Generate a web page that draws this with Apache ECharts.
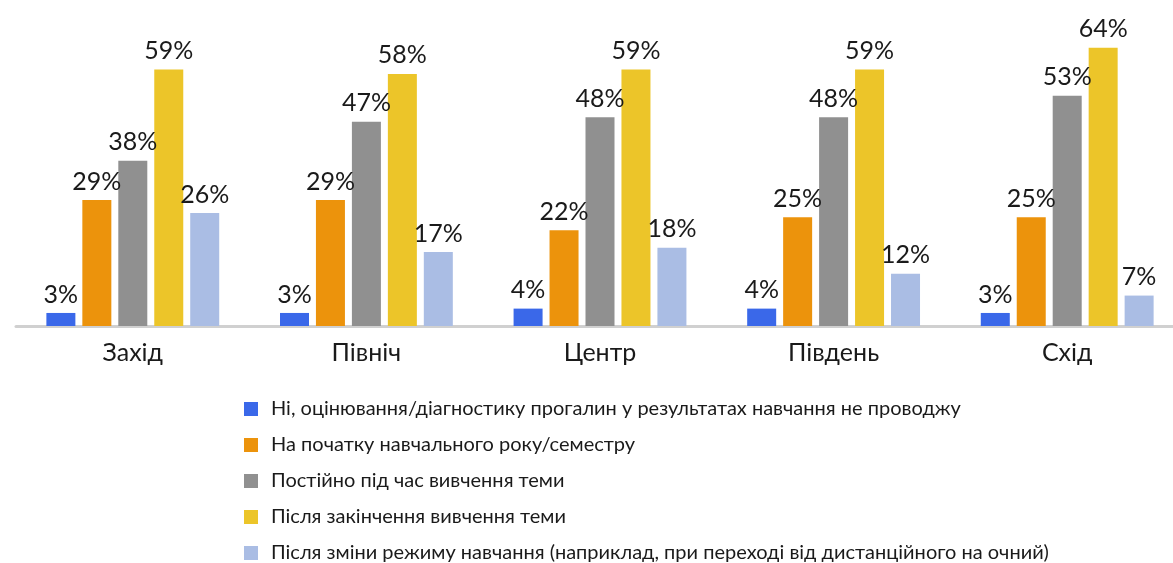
<!DOCTYPE html>
<html><head><meta charset="utf-8">
<script src="https://cdn.jsdelivr.net/npm/echarts@6/dist/echarts.min.js"></script>
<style>html,body{margin:0;padding:0;background:#fff}#c{width:1173px;height:563px}</style>
</head><body><div id="c"></div>
<script>
const categories = ['Захід', 'Північ', 'Центр', 'Південь', 'Схід'];
const seriesNames = [
  'Ні, оцінювання/діагностику прогалин у результатах навчання не проводжу',
  'На початку навчального року/семестру',
  'Постійно під час вивчення теми',
  'Після закінчення вивчення теми',
  'Після зміни режиму навчання (наприклад, при переході від дистанційного на очний)'
];
const sNo = [3, 3, 4, 4, 3];
const sStart = [29, 29, 22, 25, 25];
const sConst = [38, 47, 48, 48, 53];
const sAfter = [59, 58, 59, 59, 64];
const sMode = [26, 17, 18, 12, 7];
const colors = ['#3a68e9', '#ec930c', '#909090', '#ecc529', '#aabde4'];
const values = [sNo, sStart, sConst, sAfter, sMode];
const FONT = 'Lato, "Noto Sans", sans-serif';

const chart = echarts.init(document.getElementById('c'));
chart.setOption({
  animation: false,
  color: colors,
  grid: { left: 16, width: 1168, top: 0, bottom: 237, containLabel: false, outerBoundsMode: 'none' },
  xAxis: {
    type: 'category', data: categories,
    axisLine: { lineStyle: { color: '#d0d0d0', width: 3 } },
    axisTick: { show: false },
    axisLabel: { color: '#1a1a1a', fontSize: 25, fontFamily: FONT, margin: 14 }
  },
  yAxis: { type: 'value', min: 0, max: 75, show: false, splitLine: { show: false } },
  legend: {
    orient: 'vertical', left: 244, top: 399, height: 170, padding: 0,
    itemWidth: 14, itemHeight: 14, itemGap: 16, icon: 'rect',
    textStyle: { color: '#1a1a1a', fontSize: 20, fontFamily: FONT, padding: [0, 0, 0, 8] },
    data: seriesNames
  },
  series: values.map((v, i) => ({
    name: seriesNames[i], type: 'bar', data: v,
    barWidth: 29, barGap: '24%',
    label: { show: true, position: 'top', distance: 6, formatter: '{c}%', color: '#1a1a1a', fontSize: 25, fontFamily: FONT }
  }))
});
</script></body></html>
